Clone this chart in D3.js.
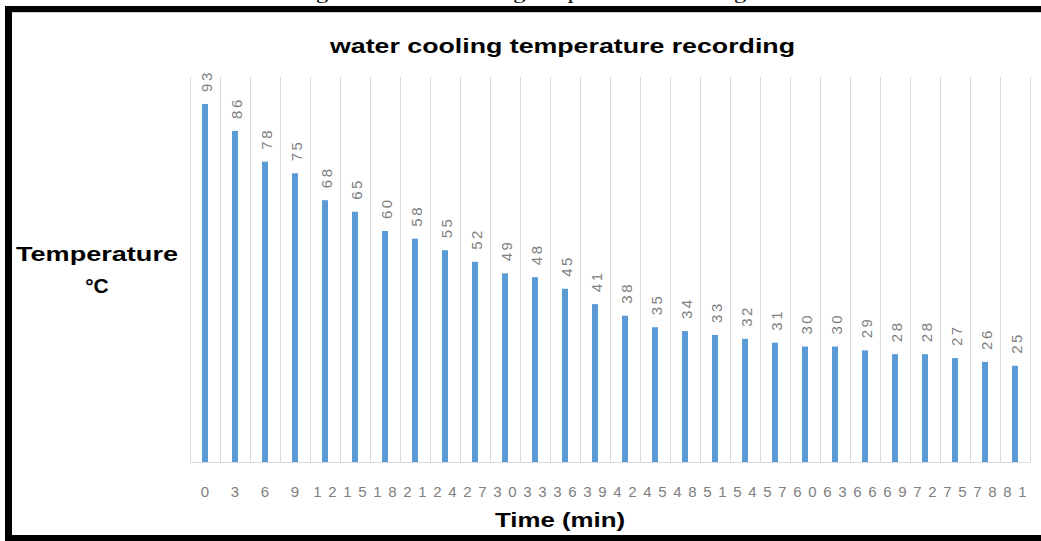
<!DOCTYPE html>
<html>
<head>
<meta charset="utf-8">
<script src="https://cdn.jsdelivr.net/npm/d3@7/dist/d3.min.js"></script>
<style>
  html, body { margin: 0; padding: 0; background: #fff; }
  svg { display: block; }
</style>
</head>
<body>
<svg id="chart" width="1041" height="541"></svg>
<script>
// Elapsed time (min) and recorded water temperature (°C)
const timeLabels = ["0","3","6","9","12","15","18","21","24","27","30","33","36","39",
                    "42","45","48","51","54","57","60","63","66","69","72","75","78","81"];
const temperatures = [93,86,78,75,68,65,60,58,55,52,49,48,45,41,
                      38,35,34,33,32,31,30,30,29,28,28,27,26,25];
const yDomain = [0, 100];

const chartTitle = "water cooling temperature recording";
const xTitle = "Time (min)";
const yTitleLines = ["Temperature", "°C"];
const caption = "Figure 1: Water cooling temperature recording";

const svg = d3.select("#chart");
const W = 1041, H = 541;
const plot = { left: 190, right: 1030, top: 77, bottom: 462 };

svg.append("rect").attr("width", W).attr("height", H).attr("fill", "#fff");

// Document caption sitting above the framed figure (only its lower edge is in view)
svg.append("text")
  .attr("x", 316).attr("y", -1)
  .attr("textLength", 430).attr("lengthAdjust", "spacingAndGlyphs")
  .attr("font-family", "Liberation Serif, serif")
  .attr("font-size", 16)
  .attr("fill", "#000")
  .text(caption.slice(2));

// Frame
svg.append("rect").attr("x", 5).attr("y", 6).attr("width", W - 5).attr("height", 6).attr("fill", "#000");
svg.append("rect").attr("x", 5).attr("y", 6).attr("width", 7).attr("height", H - 6).attr("fill", "#000");
svg.append("rect").attr("x", 5).attr("y", 535).attr("width", W - 5).attr("height", 6).attr("fill", "#000");
svg.append("line").attr("x1", 12).attr("x2", W).attr("y1", 12.5).attr("y2", 12.5)
  .attr("stroke", "#cfcfcf").attr("stroke-width", 1);

const x = d3.scaleBand().domain(timeLabels).range([plot.left, plot.right]);
const y = d3.scaleLinear().domain(yDomain).range([plot.bottom, plot.top]);

// Vertical gridlines at category boundaries
const boundaries = timeLabels.map(t => x(t)).concat([x(timeLabels[timeLabels.length - 1]) + x.bandwidth()]);
svg.append("g").selectAll("line").data(boundaries).join("line")
  .attr("x1", d => Math.round(d) + 0.5).attr("x2", d => Math.round(d) + 0.5)
  .attr("y1", plot.top).attr("y2", plot.bottom)
  .attr("stroke", "#d9d9d9").attr("stroke-width", 1);

// Category axis line
svg.append("line")
  .attr("x1", plot.left).attr("x2", plot.right)
  .attr("y1", plot.bottom + 0.5).attr("y2", plot.bottom + 0.5)
  .attr("stroke", "#d9d9d9").attr("stroke-width", 1);

// Bars
const barW = x.bandwidth() * 0.2;
const data = timeLabels.map((t, i) => ({ t, v: temperatures[i] }));
svg.append("g").selectAll("rect").data(data).join("rect")
  .attr("x", d => x(d.t) + x.bandwidth() / 2 - barW / 2)
  .attr("y", d => y(d.v))
  .attr("width", barW)
  .attr("height", d => y(0) - y(d.v))
  .attr("fill", "#5b9bd5");

// Rotated value labels above each bar
svg.append("g").selectAll("text").data(data).join("text")
  .attr("transform", d => `translate(${x(d.t) + x.bandwidth() / 2 + 1},${y(d.v) - 12}) rotate(-90)`)
  .attr("dominant-baseline", "central")
  .attr("font-family", "Liberation Sans, Arial, sans-serif")
  .attr("font-size", 15)
  .attr("letter-spacing", 2.5)
  .attr("fill", "#808080")
  .text(d => d.v);

// Category tick labels (digits spread wide, so neighbours run together)
const xAxis = d3.axisBottom(x).tickSize(0).tickPadding(0);
const gx = svg.append("g").attr("transform", `translate(0,${plot.bottom})`).call(xAxis);
gx.select(".domain").remove();
gx.selectAll("text")
  .attr("y", 24)
  .attr("dx", 3.3)
  .attr("font-family", "Liberation Sans, Arial, sans-serif")
  .attr("font-size", 15)
  .attr("letter-spacing", 6.6)
  .attr("fill", "#808080");

// Titles
svg.append("text")
  .attr("x", 330).attr("y", 53)
  .attr("textLength", 465).attr("lengthAdjust", "spacingAndGlyphs")
  .attr("font-family", "Liberation Sans, Arial, sans-serif")
  .attr("font-weight", "bold").attr("font-size", 21)
  .attr("fill", "#000")
  .text(chartTitle);

svg.append("text")
  .attr("x", 495).attr("y", 527)
  .attr("textLength", 130).attr("lengthAdjust", "spacingAndGlyphs")
  .attr("font-family", "Liberation Sans, Arial, sans-serif")
  .attr("font-weight", "bold").attr("font-size", 21)
  .attr("fill", "#000")
  .text(xTitle);

svg.append("text")
  .attr("x", 16).attr("y", 261)
  .attr("textLength", 162).attr("lengthAdjust", "spacingAndGlyphs")
  .attr("font-family", "Liberation Sans, Arial, sans-serif")
  .attr("font-weight", "bold").attr("font-size", 21)
  .attr("fill", "#000")
  .text(yTitleLines[0]);

svg.append("text")
  .attr("x", 97).attr("y", 293)
  .attr("text-anchor", "middle")
  .attr("font-family", "Liberation Sans, Arial, sans-serif")
  .attr("font-weight", "bold").attr("font-size", 21)
  .attr("fill", "#000")
  .text(yTitleLines[1]);
</script>
</body>
</html>
